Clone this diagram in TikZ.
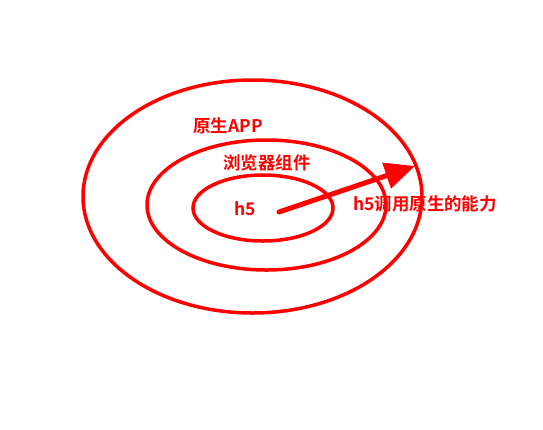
\documentclass[tikz,border=0pt]{standalone}
\usepackage{fontspec}
\setmainfont{Noto Sans CJK SC}[BoldFont={* Bold}]
\usetikzlibrary{arrows.meta}
\definecolor{myred}{RGB}{255,0,0}
\tikzset{
  ring/.style={draw=myred, line width=3.5bp},
  lbl/.style={text=myred, font=\fontsize{17.5}{20}\selectfont\bfseries, inner sep=0pt},
  pt/.style={inner sep=0pt, minimum size=0pt}
}
\begin{document}
\begin{tikzpicture}[x=1bp,y=-1bp]
\useasboundingbox (0,0) rectangle (543,429);
\draw[ring] (252.5,196.5) ellipse [x radius=169.5, y radius=116.5];
\draw[ring] (266.5,205) ellipse [x radius=119.5, y radius=65];
\draw[ring] (263,208) ellipse [x radius=70, y radius=33];
\node[lbl] (app) at (228,126) {原生APP};
\node[lbl] (browser) at (267,163) {浏览器组件};
\node[lbl] (h5) at (245,209) {h5};
\node[lbl] (call) at (425,204) {h5调用原生的能力};
\coordinate (s) at (279,212);
\coordinate (t) at (415,166);
\draw[draw=myred, line width=5bp, line cap=round, -{Triangle[length=30bp,width=26bp]}] (s) -- (t);
\end{tikzpicture}
\end{document}
